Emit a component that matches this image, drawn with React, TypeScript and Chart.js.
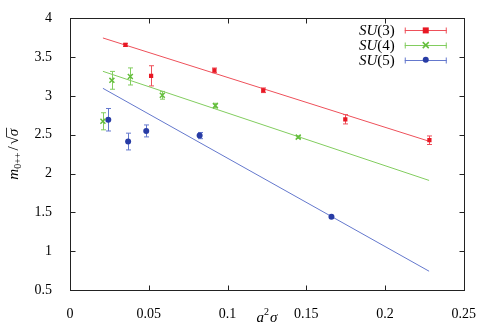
import React, { useEffect, useRef } from "react";
import { Chart, registerables } from "chart.js";

Chart.register(...registerables);

// ---- data ----
const su3X = [0.0352, 0.0515, 0.0917, 0.1227, 0.1748, 0.2282];
const su3Y = [3.658, 3.26, 3.331, 3.074, 2.7, 2.43];
const su3Err = [0.02, 0.13, 0.03, 0.03, 0.06, 0.055];

const su4X = [0.0209, 0.0266, 0.0383, 0.0586, 0.0923, 0.1449];
const su4Y = [2.674, 3.202, 3.252, 3.009, 2.876, 2.47];
const su4Err = [0.11, 0.115, 0.11, 0.05, 0.03, 0.015];

const su5X = [0.0243, 0.0369, 0.0484, 0.0823, 0.166];
const su5Y = [2.694, 2.413, 2.55, 2.49, 1.445];
const su5Err = [0.145, 0.108, 0.077, 0.04, 0.01];

const fitX = [0.0209, 0.228];
const fit3 = [3.748, 2.417];
const fit4 = [3.318, 1.912];
const fit5 = [3.099, 0.742];

const xTickLabels = ["0", "0.05", "0.1", "0.15", "0.2", "0.25"];
const yTickLabels = ["0.5", "1", "1.5", "2", "2.5", "3", "3.5", "4"];
const legendLabels = ["3", "4", "5"];

const RED = "rgb(232,24,36)";
const GREEN = "rgb(100,190,60)";
const BLUE = "rgb(40,60,165)";
const RED_L = "rgb(238,80,90)";
const GREEN_L = "rgb(130,205,95)";
const BLUE_L = "rgb(100,120,205)";

const SERIF = "'Liberation Serif', 'DejaVu Serif', serif";
Chart.defaults.font.family = SERIF;

const pts = (xs: number[], ys: number[]) => xs.map((x, i) => ({ x, y: ys[i] }));

function drawMarker(ctx: CanvasRenderingContext2D, style: string, x: number, y: number, color: string) {
  ctx.save();
  ctx.fillStyle = color;
  ctx.strokeStyle = color;
  if (style === "rect") {
    ctx.fillRect(x - 3, y - 3, 6, 6);
  } else if (style === "crossRot") {
    ctx.lineWidth = 1.5;
    ctx.beginPath();
    ctx.moveTo(x - 3, y - 3);
    ctx.lineTo(x + 3, y + 3);
    ctx.moveTo(x + 3, y - 3);
    ctx.lineTo(x - 3, y + 3);
    ctx.stroke();
  } else {
    ctx.beginPath();
    ctx.arc(x, y, 3, 0, Math.PI * 2);
    ctx.fill();
  }
  ctx.restore();
}

const errorBarPlugin = {
  id: "errorBars",
  beforeDatasetsDraw(chart: any) {
    const ctx = chart.ctx;
    const ys = chart.scales.y;
    chart.data.datasets.forEach((ds: any, i: number) => {
      if (!ds.errors) return;
      const meta = chart.getDatasetMeta(i);
      ctx.save();
      ctx.strokeStyle = ds.errColor;
      ctx.lineWidth = 1;
      meta.data.forEach((el: any, j: number) => {
        const v = ds.data[j].y;
        const e = ds.errors[j];
        const x = Math.round(el.x) + 0.5;
        const t = ys.getPixelForValue(v + e);
        const b = ys.getPixelForValue(v - e);
        ctx.beginPath();
        ctx.moveTo(x, t);
        ctx.lineTo(x, b);
        ctx.moveTo(x - 2.5, t);
        ctx.lineTo(x + 2.5, t);
        ctx.moveTo(x - 2.5, b);
        ctx.lineTo(x + 2.5, b);
        ctx.stroke();
      });
      ctx.restore();
    });
  },
};

const framePlugin = {
  id: "frame",
  afterDraw(chart: any) {
    const ctx = chart.ctx;
    const { left, right, top, bottom } = chart.chartArea;
    const xs = chart.scales.x;
    const ys = chart.scales.y;
    ctx.save();
    ctx.strokeStyle = "#222";
    ctx.lineWidth = 1;
    const L = Math.round(left) + 0.5;
    const R = Math.round(right) + 0.5;
    const T = Math.round(top) + 0.5;
    const B = Math.round(bottom) + 0.5;
    ctx.strokeRect(L, T, R - L, B - T);
    ctx.beginPath();
    xs.ticks.forEach((t: any) => {
      const px = Math.round(xs.getPixelForValue(t.value)) + 0.5;
      ctx.moveTo(px, B);
      ctx.lineTo(px, B - 5);
      ctx.moveTo(px, T);
      ctx.lineTo(px, T + 5);
    });
    ys.ticks.forEach((t: any) => {
      const py = Math.round(ys.getPixelForValue(t.value)) + 0.5;
      ctx.moveTo(L, py);
      ctx.lineTo(L + 5, py);
      ctx.moveTo(R, py);
      ctx.lineTo(R - 5, py);
    });
    ctx.stroke();

    // axis titles
    ctx.fillStyle = "#000";
    ctx.textBaseline = "alphabetic";
    // x title: a^2 sigma
    {
      const big = `italic 15px ${SERIF}`;
      const small = `10px ${SERIF}`;
      ctx.font = big;
      const wa = ctx.measureText("a").width;
      const ws = ctx.measureText("σ").width;
      ctx.font = small;
      const w2 = ctx.measureText("2").width;
      const total = wa + w2 + 1 + ws;
      let x = (left + right) / 2 - total / 2;
      const y = 322;
      ctx.font = big;
      ctx.fillText("a", x, y);
      x += wa;
      ctx.font = small;
      ctx.fillText("2", x, y - 7);
      x += w2 + 1;
      ctx.font = big;
      ctx.fillText("σ", x, y);
    }
    // y title: m_{0++} / sqrt(sigma)
    {
      ctx.save();
      ctx.translate(18, (top + bottom) / 2);
      ctx.rotate(-Math.PI / 2);
      const big = `italic 15px ${SERIF}`;
      const up = `15px ${SERIF}`;
      const small = `10px ${SERIF}`;
      ctx.font = big;
      const wm = ctx.measureText("m").width;
      const ws = ctx.measureText("σ").width;
      ctx.font = small;
      const wsub = ctx.measureText("0++").width;
      ctx.font = up;
      const wsl = ctx.measureText("/").width;
      const wr = ctx.measureText("√").width;
      const total = wm + wsub + 2 + wsl + 2 + wr + ws;
      let x = -total / 2;
      const y = 0;
      ctx.font = big;
      ctx.fillText("m", x, y);
      x += wm;
      ctx.font = small;
      ctx.fillText("0++", x, y + 3);
      x += wsub + 2;
      ctx.font = up;
      ctx.fillText("/", x, y);
      x += wsl + 2;
      ctx.fillText("√", x, y);
      const rx = x + wr;
      x += wr;
      ctx.font = big;
      ctx.fillText("σ", x, y);
      ctx.lineWidth = 0.8;
      ctx.strokeStyle = "#000";
      ctx.beginPath();
      ctx.moveTo(rx - 0.5, y - 11.5);
      ctx.lineTo(x + ws + 1, y - 11.5);
      ctx.stroke();
      ctx.restore();
    }

    // legend
    const colors = [RED, GREEN, BLUE];
    const lcolors = [RED_L, GREEN_L, BLUE_L];
    const markers = ["rect", "crossRot", "circle"];
    legendLabels.forEach((lab, i) => {
      const cy = top + 12 + i * 14.7;
      ctx.font = `15px ${SERIF}`;
      const tail = `(${lab})`;
      const wt = ctx.measureText(tail).width;
      ctx.font = `italic 15px ${SERIF}`;
      const wsu = ctx.measureText("SU").width;
      const textRight = right - 69;
      ctx.fillStyle = "#000";
      ctx.fillText("SU", textRight - wt - wsu, cy + 5);
      ctx.font = `15px ${SERIF}`;
      ctx.fillText(tail, textRight - wt, cy + 5);
      const x0 = right - 59;
      const x1 = right - 17;
      const yy = Math.round(cy) + 0.5;
      ctx.strokeStyle = lcolors[i];
      ctx.lineWidth = 1;
      ctx.beginPath();
      ctx.moveTo(x0, yy);
      ctx.lineTo(x1, yy);
      ctx.moveTo(x0 + 0.5, yy - 3);
      ctx.lineTo(x0 + 0.5, yy + 3);
      ctx.moveTo(x1 - 0.5, yy - 3);
      ctx.lineTo(x1 - 0.5, yy + 3);
      ctx.stroke();
      drawMarker(ctx, markers[i], (x0 + x1) / 2, cy, colors[i]);
    });
    ctx.restore();
  },
};

export default function App() {
  const ref = useRef<HTMLCanvasElement>(null);
  useEffect(() => {
    document.body.style.margin = "0";
    const canvas = ref.current!;
    const lineDs = (ys: number[], color: string) => ({
      type: "line" as const,
      data: pts(fitX, ys),
      borderColor: color,
      borderWidth: 1,
      pointRadius: 0,
      showLine: true,
      fill: false,
      order: 2,
    });
    const ptDs = (xs: number[], ys: number[], errs: number[], color: string, errColor: string, style: string, radius: number) => ({
      type: "scatter" as const,
      data: pts(xs, ys),
      errors: errs,
      errColor,
      backgroundColor: color,
      borderColor: color,
      pointStyle: style,
      pointRadius: radius,
      pointBorderWidth: style === "crossRot" ? 1.5 : 0,
      order: 1,
    });
    const chart = new Chart(canvas, {
      type: "scatter",
      data: {
        datasets: [
          lineDs(fit3, RED_L),
          lineDs(fit4, GREEN_L),
          lineDs(fit5, BLUE_L),
          ptDs(su3X, su3Y, su3Err, RED, RED_L, "rect", 3),
          ptDs(su4X, su4Y, su4Err, GREEN, GREEN_L, "crossRot", 3.5),
          ptDs(su5X, su5Y, su5Err, BLUE, BLUE_L, "circle", 3),
        ] as any,
      },
      options: {
        animation: false,
        responsive: false,
        layout: { padding: { top: 7, right: 16, left: 0, bottom: 0 } },
        plugins: { legend: { display: false }, tooltip: { enabled: false } },
        scales: {
          x: {
            type: "linear",
            min: 0,
            max: 0.25,
            ticks: {
              stepSize: 0.05,
              padding: 8,
              color: "#000",
              font: { family: SERIF, size: 14 },
              maxRotation: 0,
              callback: (_v: any, i: number) => xTickLabels[i],
            },
            grid: { display: false },
            border: { display: false },
            afterFit: (s: any) => {
              s.height = 42;
            },
          },
          y: {
            type: "linear",
            min: 0.5,
            max: 4,
            ticks: {
              stepSize: 0.5,
              padding: 10,
              color: "#000",
              font: { family: SERIF, size: 14 },
              callback: (_v: any, i: number) => yTickLabels[i],
            },
            grid: { display: false },
            border: { display: false },
            afterFit: (s: any) => {
              s.width = 70;
            },
          },
        },
      } as any,
      plugins: [errorBarPlugin, framePlugin],
    });
    return () => chart.destroy();
  }, []);
  return (
    <div style={{ position: "fixed", left: 0, top: 0, width: 484, height: 332 }}>
      <canvas ref={ref} width={484} height={332} style={{ width: 484, height: 332, display: "block" }} />
    </div>
  );
}
